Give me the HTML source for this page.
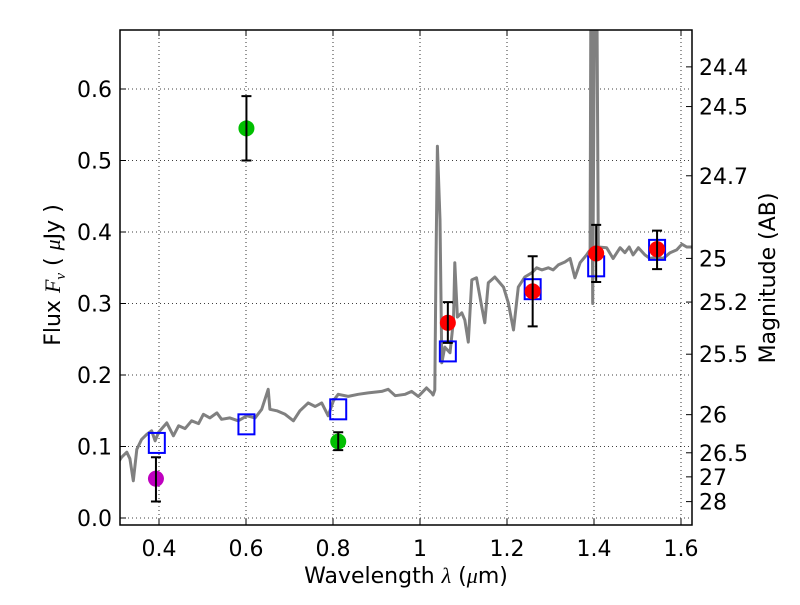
<!DOCTYPE html>
<html><head><meta charset="utf-8"><style>
body{margin:0;background:#fff}
svg text{font-family:"DejaVu Sans","Liberation Sans",sans-serif;fill:#000}
</style></head><body>
<svg id="c" width="800" height="600" xmlns="http://www.w3.org/2000/svg"></svg>
<script>
const specWave=[0.299,0.314,0.326,0.333,0.341,0.349,0.360,0.372,0.383,0.391,0.399,0.418,0.433,0.445,0.460,0.475,0.491,0.502,0.517,0.533,0.544,0.563,0.582,0.602,0.621,0.636,0.651,0.655,0.671,0.690,0.709,0.724,0.743,0.759,0.774,0.789,0.801,0.812,0.835,0.858,0.881,0.912,0.927,0.943,0.966,0.981,0.996,1.015,1.027,1.030,1.034,1.037,1.040,1.046,1.050,1.057,1.069,1.077,1.080,1.086,1.096,1.103,1.111,1.119,1.130,1.142,1.149,1.157,1.172,1.192,1.203,1.215,1.226,1.241,1.257,1.268,1.280,1.295,1.306,1.318,1.333,1.345,1.356,1.368,1.383,1.391,1.393,1.397,1.402,1.406,1.410,1.429,1.444,1.460,1.471,1.481,1.490,1.502,1.517,1.529,1.544,1.559,1.575,1.590,1.602,1.613,1.625];
const specFlux=[0.071,0.085,0.092,0.083,0.052,0.096,0.110,0.117,0.122,0.108,0.120,0.133,0.115,0.129,0.125,0.136,0.132,0.145,0.140,0.147,0.138,0.140,0.136,0.143,0.140,0.152,0.180,0.152,0.150,0.145,0.136,0.150,0.161,0.156,0.161,0.143,0.164,0.173,0.170,0.173,0.175,0.177,0.180,0.171,0.173,0.177,0.170,0.182,0.175,0.172,0.179,0.370,0.520,0.417,0.217,0.239,0.231,0.277,0.357,0.281,0.287,0.277,0.246,0.333,0.336,0.295,0.273,0.329,0.337,0.323,0.301,0.263,0.323,0.337,0.343,0.350,0.347,0.350,0.347,0.354,0.358,0.363,0.336,0.357,0.368,0.375,0.800,0.300,0.800,0.800,0.379,0.378,0.363,0.378,0.371,0.379,0.368,0.378,0.368,0.363,0.365,0.363,0.371,0.375,0.383,0.379,0.379];
const ptWave=[0.393,0.601,0.812,1.064,1.259,1.405,1.545];
const ptFlux=[0.055,0.545,0.107,0.273,0.317,0.370,0.376];
const ptErrLo=[0.023,0.500,0.095,0.245,0.268,0.330,0.348];
const ptErrHi=[0.085,0.590,0.120,0.302,0.366,0.410,0.402];
const ptColor=['#bf00bf','#00bf00','#00bf00','#ff0000','#ff0000','#ff0000','#ff0000'];
const boxWave=[0.395,0.601,0.812,1.064,1.259,1.405,1.545];
const boxFlux=[0.105,0.131,0.152,0.233,0.320,0.352,0.375];
const xTicks=[0.4,0.6,0.8,1.0,1.2,1.4,1.6];
const xTickLabels=['0.4','0.6','0.8','1','1.2','1.4','1.6'];
const yTicks=[0,0.1,0.2,0.3,0.4,0.5,0.6];
const yTickLabels=['0.0','0.1','0.2','0.3','0.4','0.5','0.6'];
const magTicks=[24.4,24.5,24.7,25,25.2,25.5,26,26.5,27,28];
const magLabels=['24.4','24.5','24.7','25','25.2','25.5','26','26.5','27','28'];

const L=120,R=692,T=30,B=525;
const X=v=>420+(v-1)*435;
const Y=f=>518-f*715;
const NS='http://www.w3.org/2000/svg';
const svg=document.getElementById('c');
function mk(tag,attrs,parent){const e=document.createElementNS(NS,tag);for(const k in attrs)e.setAttribute(k,attrs[k]);(parent||svg).appendChild(e);return e;}
const defs=mk('defs',{});
const cp=mk('clipPath',{id:'clip'},defs);
mk('rect',{x:L,y:T,width:R-L,height:B-T},cp);

xTicks.forEach((v,i)=>{
  const g=mk('line',{x1:X(v),x2:X(v),y1:T,y2:B,stroke:'#000','stroke-width':0.8,'stroke-dasharray':'1,3'});
  
  
  const t=mk('line',{x1:X(v),x2:X(v),y1:B,y2:B-6,stroke:'#000'});
  
  
  mk('line',{x1:X(v),x2:X(v),y1:T,y2:T+6,stroke:'#000'});
  const lb=mk('text',{x:X(v),y:B+31,'font-size':22,'text-anchor':'middle'});
  lb.textContent=xTickLabels[i];
  
  
});
yTicks.forEach((v,i)=>{
  const g=mk('line',{x1:L,x2:R,y1:Y(v),y2:Y(v),stroke:'#000','stroke-width':0.8,'stroke-dasharray':'1,3'});
  
  
  const t=mk('line',{x1:L,x2:L+6,y1:Y(v),y2:Y(v),stroke:'#000'});
  
  
  const lb=mk('text',{x:L-8,y:Y(v)+8,'font-size':22,'text-anchor':'end'});
  lb.textContent=yTickLabels[i];
  
  
});
magTicks.forEach((m,i)=>{
  const f=Math.pow(10,(23.9-m)/2.5);
  const t=mk('line',{x1:R,x2:R-6,y1:Y(f),y2:Y(f),stroke:'#000'});
  
  
  const lb=mk('text',{x:R+7,y:Y(f)+8,'font-size':22});
  lb.textContent=magLabels[i];
  
  
});

const pts=specWave.map((w,i)=>X(w).toFixed(1)+','+Y(specFlux[i]).toFixed(1)).join(' ');
const sp=mk('polyline',{points:pts,fill:'none',stroke:'#808080','stroke-width':3,'clip-path':'url(#clip)','stroke-linejoin':'round'});



boxWave.forEach((w,i)=>{
  const b=mk('rect',{x:X(w)-8,y:Y(boxFlux[i])-10,width:16,height:20,fill:'none',stroke:'#0000ff','stroke-width':2});
  
  
});
ptWave.forEach((w,i)=>{
  const c=mk('circle',{cx:X(w),cy:Y(ptFlux[i]),r:8,fill:ptColor[i]});
  
  
  const e=mk('path',{d:`M${X(w)},${Y(ptErrLo[i])}V${Y(ptErrHi[i])}M${X(w)-5},${Y(ptErrLo[i])}h10M${X(w)-5},${Y(ptErrHi[i])}h10`,stroke:'#000','stroke-width':2,fill:'none'});
  
  
});

const fr=mk('rect',{x:L,y:T,width:R-L,height:B-T,fill:'none',stroke:'#000','stroke-width':1.5});



const xl=mk('text',{x:406,y:583,'font-size':22,'text-anchor':'middle'});
xl.innerHTML='Wavelength  <tspan font-style="italic" font-family="Liberation Serif">λ</tspan> (<tspan font-style="italic" font-family="Liberation Serif">μ</tspan>m)';


const yl=mk('text',{x:0,y:0,'font-size':22,'text-anchor':'middle',transform:'translate(60,275) rotate(-90)'});
yl.innerHTML='Flux  <tspan font-style="italic" font-family="Liberation Serif">F</tspan><tspan font-style="italic" font-family="Liberation Serif" font-size="15" dy="5">ν</tspan><tspan dy="-5">   (  </tspan><tspan font-style="italic" font-family="Liberation Serif">μ</tspan>Jy )';


const ml=mk('text',{x:0,y:0,'font-size':22,'text-anchor':'middle',transform:'translate(775,278) rotate(-90)'});
ml.textContent='Magnitude (AB)';


</script>
</body></html>
